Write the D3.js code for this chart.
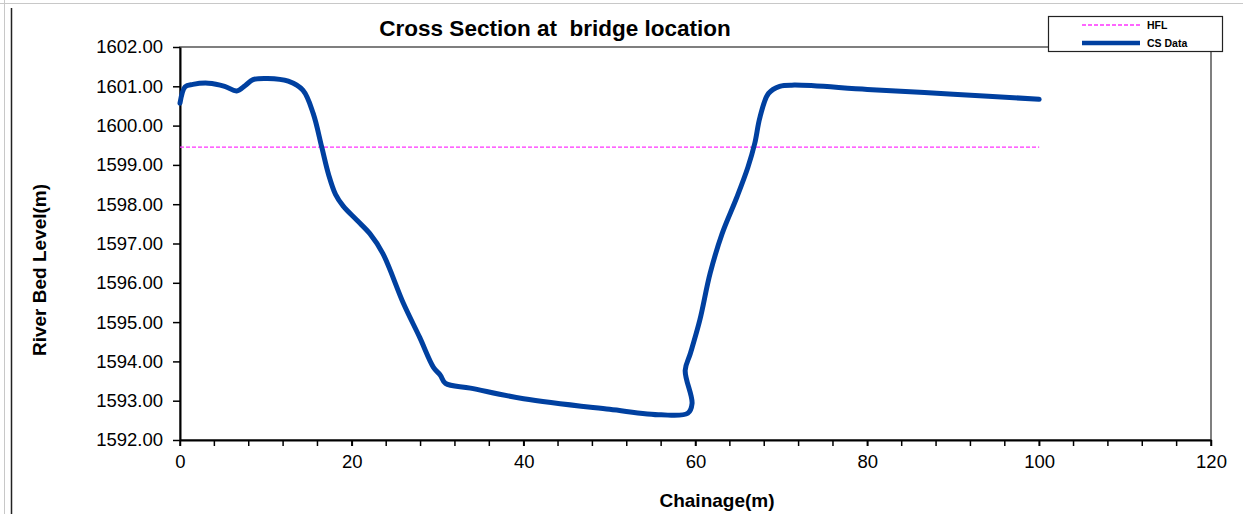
<!DOCTYPE html>
<html>
<head>
<meta charset="utf-8">
<script src="https://cdn.jsdelivr.net/npm/d3@7"></script>
<style>
  html, body { margin: 0; padding: 0; background: #fff; }
  svg { display: block; font-family: "Liberation Sans", Arial, sans-serif; }
</style>
</head>
<body>
<svg id="chart" width="1243" height="514"></svg>
<script>
// Surveyed cross-section: chainage (m) and river bed level (m)
const chainage = [0, 0.6, 1.5, 3.3, 5.2, 6.6, 7.6, 8.5, 10.2, 12.6, 14.3, 15.5, 16.5, 17.3, 18.1, 19.0, 20.6, 22.1, 23.6, 26.0, 27.9, 29.5, 30.3, 30.9, 33.8, 40, 50, 56.0, 59.1, 59.6, 58.8, 59.4, 60.5, 61.7, 63.1, 64.8, 66.1, 66.9, 67.5, 68.5, 69.8, 71.5, 80, 90, 100];
const bedLevel = [1600.57, 1600.99, 1601.05, 1601.08, 1601.0, 1600.88, 1601.02, 1601.17, 1601.2, 1601.13, 1600.9, 1600.31, 1599.45, 1598.75, 1598.25, 1597.95, 1597.59, 1597.25, 1596.75, 1595.48, 1594.61, 1593.85, 1593.65, 1593.44, 1593.32, 1593.05, 1592.78, 1592.64, 1592.68, 1592.93, 1593.77, 1594.2, 1595.05, 1596.24, 1597.25, 1598.17, 1598.94, 1599.55, 1600.21, 1600.82, 1601.0, 1601.03, 1600.92, 1600.8, 1600.67];

// High flood level line
const hflChainage = [0, 100];
const hflLevel = [1599.45, 1599.45];

// Axis ticks
const yTicks = [1592, 1593, 1594, 1595, 1596, 1597, 1598, 1599, 1600, 1601, 1602];
const xTicks = [0, 20, 40, 60, 80, 100, 120];
const xMinorTicks = d3.range(0, 121, 4);

const svg = d3.select("#chart");

const plot = { left: 180, right: 1211, top: 47, bottom: 440 };

const x = d3.scaleLinear().domain([0, 120]).range([plot.left, plot.right]);
const y = d3.scaleLinear().domain([1592, 1602]).range([plot.bottom, plot.top]);

// Outer frame
svg.append("line").attr("x1", 4.5).attr("x2", 4.5).attr("y1", 0).attr("y2", 514)
  .attr("stroke", "#c8c8c8").attr("stroke-width", 1);
svg.append("line").attr("x1", 0).attr("x2", 1243).attr("y1", 3.5).attr("y2", 3.5)
  .attr("stroke", "#c8c8c8").attr("stroke-width", 1);
svg.append("line").attr("x1", 11.5).attr("x2", 11.5).attr("y1", 8).attr("y2", 514)
  .attr("stroke", "#222").attr("stroke-width", 1.5);

// Plot area box
svg.append("rect")
  .attr("x", plot.left).attr("y", plot.top)
  .attr("width", plot.right - plot.left).attr("height", plot.bottom - plot.top)
  .attr("fill", "none").attr("stroke", "#555").attr("stroke-width", 1.5);

// Y axis
const yAxis = d3.axisLeft(y).tickValues(yTicks).tickFormat(d3.format(".2f"))
  .tickSize(7).tickSizeOuter(0).tickPadding(10);
const gy = svg.append("g").attr("transform", `translate(${plot.left},0)`).call(yAxis);
gy.select(".domain").attr("stroke", "#000").attr("stroke-width", 2);
gy.selectAll(".tick line").attr("stroke", "#000").attr("stroke-width", 1.5);
gy.selectAll(".tick text").attr("font-size", 18.5).attr("fill", "#000")
  .attr("font-family", "Liberation Sans, Arial, sans-serif");

// X axis: minor ticks then labelled majors
const gxMinor = svg.append("g").attr("transform", `translate(0,${plot.bottom})`);
gxMinor.selectAll("line").data(xMinorTicks).join("line")
  .attr("x1", d => x(d)).attr("x2", d => x(d))
  .attr("y1", 0).attr("y2", 6)
  .attr("stroke", "#000").attr("stroke-width", 1.5);

const xAxis = d3.axisBottom(x).tickValues(xTicks).tickFormat(d3.format("d"))
  .tickSize(6).tickSizeOuter(0).tickPadding(9);
const gx = svg.append("g").attr("transform", `translate(0,${plot.bottom})`).call(xAxis);
gx.select(".domain").attr("stroke", "#000").attr("stroke-width", 2);
gx.selectAll(".tick line").attr("stroke", "#000").attr("stroke-width", 1.5);
gx.selectAll(".tick text").attr("font-size", 18.5).attr("fill", "#000")
  .attr("font-family", "Liberation Sans, Arial, sans-serif");

// HFL line
const hfl = hflChainage.map((c, i) => [c, hflLevel[i]]);
svg.append("path")
  .attr("d", d3.line().x(d => x(d[0])).y(d => y(d[1]))(hfl))
  .attr("fill", "none").attr("stroke", "#ff33ff").attr("stroke-width", 1.2)
  .attr("stroke-dasharray", "4,2");

// River bed profile
const profile = chainage.map((c, i) => [c, bedLevel[i]]);
svg.append("path")
  .attr("d", d3.line().curve(d3.curveCatmullRom.alpha(0.5)).x(d => x(d[0])).y(d => y(d[1]))(profile))
  .attr("fill", "none").attr("stroke", "#0040a0").attr("stroke-width", 5)
  .attr("stroke-linejoin", "round").attr("stroke-linecap", "round");

// Title
svg.append("text")
  .attr("x", 555).attr("y", 36)
  .attr("text-anchor", "middle")
  .attr("font-size", 22.5).attr("font-weight", "bold")
  .style("white-space", "pre")
  .text("Cross Section at  bridge location");

// Axis titles
svg.append("text")
  .attr("x", 717).attr("y", 507)
  .attr("text-anchor", "middle")
  .attr("font-size", 19).attr("font-weight", "bold")
  .text("Chainage(m)");

svg.append("text")
  .attr("transform", "translate(46,270) rotate(-90)")
  .attr("text-anchor", "middle")
  .attr("font-size", 19).attr("font-weight", "bold")
  .text("River Bed Level(m)");

// Legend
const legend = svg.append("g");
legend.append("rect")
  .attr("x", 1048.5).attr("y", 16.5).attr("width", 174).attr("height", 35)
  .attr("fill", "#fff").attr("stroke", "#222").attr("stroke-width", 1.2);
legend.append("line")
  .attr("x1", 1082).attr("x2", 1140).attr("y1", 25).attr("y2", 25)
  .attr("stroke", "#ff33ff").attr("stroke-width", 1.5).attr("stroke-dasharray", "4,2");
legend.append("text").attr("x", 1147).attr("y", 29)
  .attr("font-size", 10.5).attr("font-weight", "bold").text("HFL");
legend.append("line")
  .attr("x1", 1082).attr("x2", 1140).attr("y1", 43).attr("y2", 43)
  .attr("stroke", "#0040a0").attr("stroke-width", 4.5);
legend.append("text").attr("x", 1147).attr("y", 47)
  .attr("font-size", 10.5).attr("font-weight", "bold").text("CS Data");
</script>
</body>
</html>
